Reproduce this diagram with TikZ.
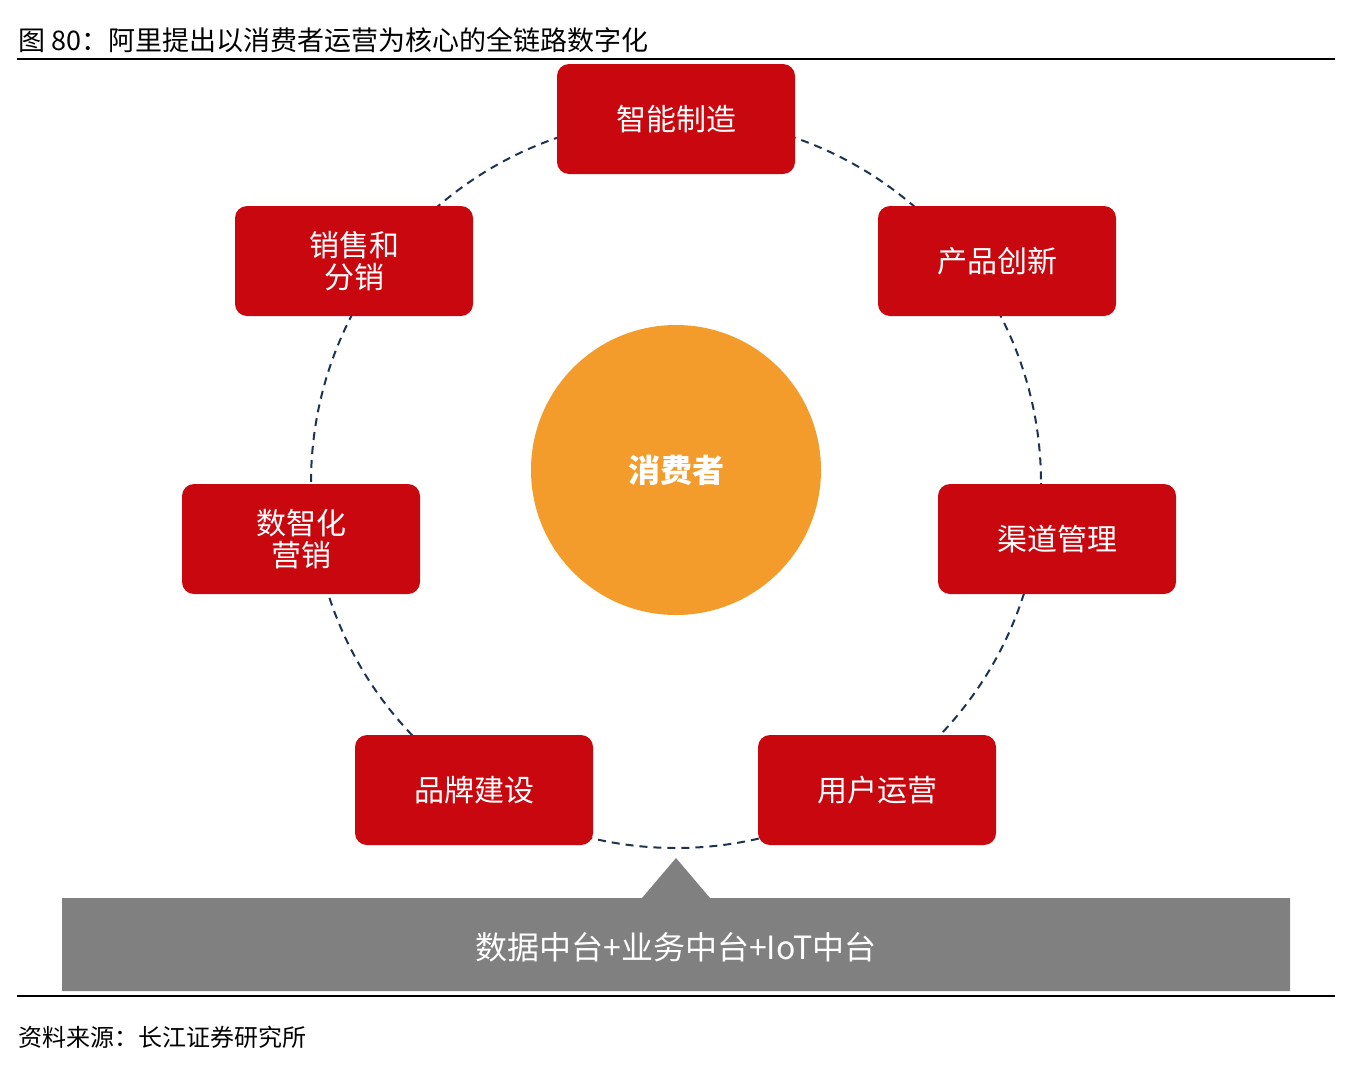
\documentclass[tikz,border=0pt]{standalone}
\usepackage{fontspec}
\setmainfont{Noto Sans CJK SC}
\definecolor{cred}{HTML}{C8070F}
\definecolor{corange}{HTML}{F39C2C}
\definecolor{cgray}{HTML}{808080}
\definecolor{cnavy}{HTML}{1F3350}
\begin{document}
\begin{tikzpicture}[x=1pt,y=-1pt,
 box/.style={fill=cred,rounded corners=12pt,minimum width=238pt,minimum height=110pt,text=white,font=\fontsize{30}{36}\selectfont,align=center,inner sep=0pt}]
\useasboundingbox (0,0) rectangle (1352,1068);
\fill[white] (0,0) rectangle (1352,1068);
\node[anchor=base west,font=\fontsize{27}{30}\selectfont,inner sep=0pt] (title) at (18,50) {图 80：阿里提出以消费者运营为核心的全链路数字化};
\draw[line width=1.5pt] (17,59) -- (1335,59);
\draw[cnavy,line width=2pt,dash pattern=on 8pt off 6pt] (676,483) circle[radius=365];
\node[circle,fill=corange,minimum size=290pt,inner sep=0pt,text=white,font=\bfseries\fontsize{32}{36}\selectfont] (c) at (676,470) {消费者};
\node[box] (a) at (676,119) {智能制造};
\node[box] (b) at (997,261) {产品创新};
\node[box] (d) at (1057,539) {渠道管理};
\node[box] (e) at (877,790) {用户运营};
\node[box] (f) at (474,790) {品牌建设};
\node[box] (g) at (301,539) {数智化\\[-4pt]营销};
\node[box] (h) at (354,261) {销售和\\[-4pt]分销};
\fill[cgray] (62,898) -- (642,898) -- (676,858) -- (710,898) -- (1290,898) -- (1290,991) -- (62,991) -- cycle;
\node[text=white,font=\fontsize{32}{36}\selectfont] (plat) at (676,947) {数据中台+业务中台+IoT中台};
\draw[line width=1.5pt] (17,996) -- (1335,996);
\node[anchor=base west,font=\fontsize{24}{28}\selectfont,inner sep=0pt] (src) at (18,1046) {资料来源：长江证券研究所};
\end{tikzpicture}
\end{document}
